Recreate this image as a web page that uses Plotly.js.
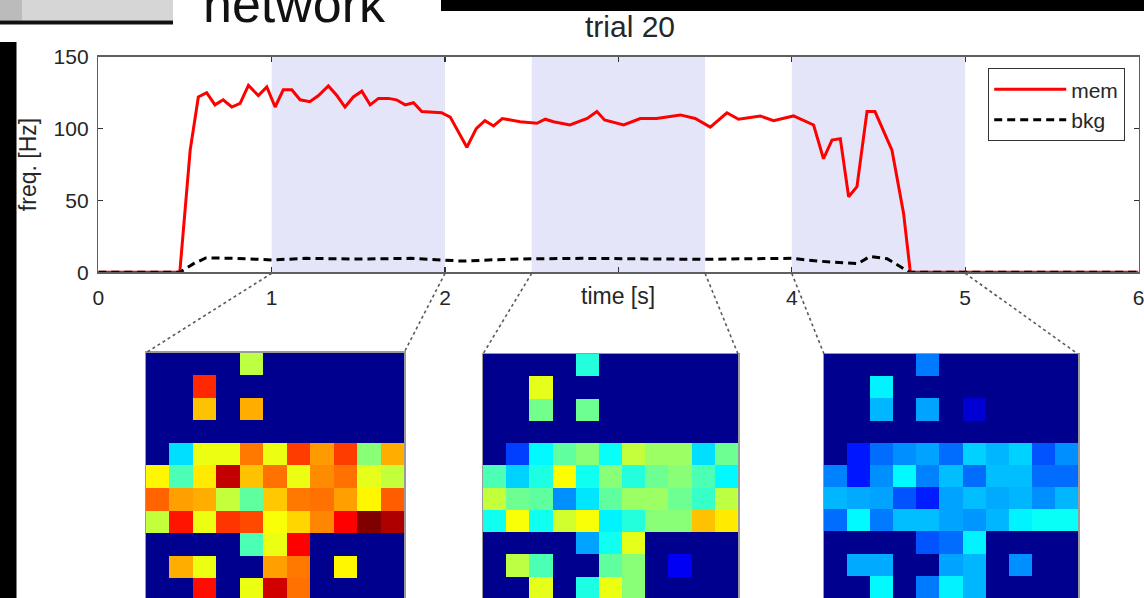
<!DOCTYPE html>
<html>
<head>
<meta charset="utf-8">
<script src="https://cdn.plot.ly/plotly-3.0.1.min.js"></script>
<style>
  html, body { margin: 0; padding: 0; background: #ffffff; }
  #chart { width: 1144px; height: 598px; }
</style>
</head>
<body>
<div id="chart"></div>
<script>
// ---- firing-rate traces for trial 20 ----
const memTime = [0, 0.47, 0.53, 0.577, 0.625, 0.673, 0.72, 0.77, 0.818, 0.866, 0.923, 0.972,
  1.02, 1.067, 1.116, 1.164, 1.22, 1.27, 1.327, 1.376, 1.423, 1.471, 1.52, 1.568, 1.616,
  1.673, 1.72, 1.77, 1.818, 1.866, 1.98, 2.03, 2.126, 2.18, 2.23, 2.28, 2.33, 2.433, 2.53,
  2.578, 2.626, 2.72, 2.82, 2.876, 2.92, 3.03, 3.126, 3.22, 3.357, 3.443, 3.53, 3.626,
  3.693, 3.818, 3.895, 4.01, 4.126, 4.183, 4.232, 4.28, 4.328, 4.376, 4.434, 4.48, 4.578,
  4.645, 4.684, 6.0];
const memRate = [0, 0, 85, 122, 125, 116.5, 120, 115, 117.6, 130, 123, 129,
  115, 127, 127, 120, 118.7, 123, 129.6, 123, 115, 122, 126, 116.5, 121,
  121, 120, 116.5, 118, 111.8, 111, 108, 87, 100, 105.5, 101.8, 107, 104.8, 103.7,
  106.5, 104.8, 102.5, 107, 111.8, 106, 102.5, 107, 107, 109.5, 107, 101, 111,
  106.5, 108.8, 105.5, 108.8, 102.5, 79, 92, 93, 52.6, 59.6, 111.8, 111.8, 85,
  41, 0, 0];

const bkgTime = [0, 0.47, 0.55, 0.62, 0.8, 1.0, 1.2, 1.5, 1.8, 2.0, 2.1, 2.3, 2.5, 2.8,
  3.0, 3.3, 3.5, 3.7, 4.0, 4.15, 4.3, 4.38, 4.45, 4.55, 4.68, 6.0];
const bkgRate = [0, 0, 6, 10, 9.7, 8.6, 9.7, 9.2, 9.7, 8.3, 7.8, 8.8, 9.4, 9.7,
  9.5, 9.7, 9.0, 9.4, 9.7, 7.8, 6.8, 6.0, 11.0, 9.5, 0, 0];

// time windows averaged into the three network snapshots
const windowStart = [1, 2.5, 4];
const windowEnd = [2, 3.5, 5];

const xTickVals = [0, 1, 2, 3, 4, 5, 6];
const xTickText = ['0', '1', '2', '', '4', '5', '6'];
const yTickVals = [0, 50, 100, 150];

// ---- per-neuron rates (Hz) on the 11 x 11 grid, rows top to bottom ----
const snapA = [
  [0, 0, 0, 0, 83, 0, 0, 0, 0, 0, 0],
  [0, 0, 125, 0, 0, 0, 0, 0, 0, 0, 0],
  [0, 0, 102, 0, 105, 0, 0, 0, 0, 0, 0],
  [0, 0, 0, 0, 0, 0, 0, 0, 0, 0, 0],
  [0, 50, 90, 90, 113, 90, 122, 108, 122, 75, 105],
  [94, 66, 96, 140, 102, 114, 90, 110, 114, 89, 84],
  [116, 107, 105, 84, 69, 101, 113, 114, 107, 94, 117],
  [84, 128, 90, 123, 120, 92, 99, 111, 131, 150, 143],
  [0, 0, 0, 0, 66, 90, 131, 0, 0, 0, 0],
  [0, 105, 90, 0, 0, 107, 113, 0, 94, 0, 0],
  [0, 0, 129, 0, 90, 138, 114, 0, 0, 0, 0]
];
const snapB = [
  [0, 0, 0, 0, 60, 0, 0, 0, 0, 0, 0],
  [0, 0, 89, 0, 0, 0, 0, 0, 0, 0, 0],
  [0, 0, 72, 0, 71, 0, 0, 0, 0, 0, 0],
  [0, 0, 0, 0, 0, 0, 0, 0, 0, 0, 0],
  [0, 26, 54, 69, 75, 56, 84, 78, 78, 50, 71],
  [66, 48, 59, 93, 57, 75, 60, 71, 75, 66, 54],
  [84, 71, 69, 38, 51, 69, 78, 78, 71, 63, 83],
  [57, 92, 57, 86, 92, 53, 60, 75, 75, 102, 96],
  [0, 0, 0, 0, 41, 57, 89, 0, 0, 0, 0],
  [0, 83, 66, 0, 0, 69, 75, 0, 15, 0, 0],
  [0, 0, 89, 0, 59, 90, 75, 0, 0, 0, 0]
];
const snapC = [
  [0, 0, 0, 0, 35, 0, 0, 0, 0, 0, 0],
  [0, 0, 53, 0, 0, 0, 0, 0, 0, 0, 0],
  [0, 0, 44, 0, 41, 0, 10, 0, 0, 0, 0],
  [0, 0, 0, 0, 0, 0, 0, 0, 0, 0, 0],
  [0, 20, 33, 38, 41, 33, 48, 44, 48, 29, 38],
  [36, 20, 38, 54, 36, 45, 33, 45, 45, 33, 33],
  [44, 42, 41, 29, 21, 41, 45, 42, 44, 38, 44],
  [33, 54, 35, 45, 45, 41, 39, 44, 53, 56, 56],
  [0, 0, 0, 0, 29, 33, 53, 0, 0, 0, 0],
  [0, 42, 42, 0, 0, 41, 44, 0, 38, 0, 0],
  [0, 0, 54, 0, 35, 53, 44, 0, 0, 0, 0]
];

// ---- page geometry (pixels) ----
const W = 1144, H = 598;
const fx = v => v / W;
const fy = v => 1 - v / H;
const FONT = 'Liberation Sans, Arial, sans-serif';
const INK = '#262626';

const plotL = 98.3, plotR = 1138.5, plotT = 56.7, plotB = 272.3;
const tToPaper = t => fx(plotL + (t / 6) * (plotR - plotL));

// snapshot panels: [left, right, top] in px
const panels = [[146, 404, 352.7], [483, 738, 354], [824, 1078, 354]];

// MATLAB-style jet colour map
const jet = [
  [0, 'rgb(0,0,143)'], [0.111, 'rgb(0,0,255)'], [0.365, 'rgb(0,255,255)'],
  [0.619, 'rgb(255,255,0)'], [0.873, 'rgb(255,0,0)'], [1, 'rgb(128,0,0)']
];

const gridIdx = [0, 1, 2, 3, 4, 5, 6, 7, 8, 9, 10];
const snaps = [snapA, snapB, snapC];

const traces = [
  {
    x: memTime, y: memRate, type: 'scatter', mode: 'lines', name: 'mem',
    line: { color: '#ff0000', width: 3 }, xaxis: 'x', yaxis: 'y'
  },
  {
    x: bkgTime, y: bkgRate, type: 'scatter', mode: 'lines', name: 'bkg',
    line: { color: '#000000', width: 3, dash: '8px,5px' }, xaxis: 'x', yaxis: 'y'
  }
];
snaps.forEach((z, i) => {
  traces.push({
    type: 'heatmap', z: z, x: gridIdx, y: gridIdx,
    colorscale: jet, zmin: 0, zmax: 150, showscale: false, zsmooth: false,
    xaxis: 'x' + (i + 2), yaxis: 'y' + (i + 2), hoverinfo: 'skip'
  });
});

const shapes = [];
// shaded averaging windows
windowStart.forEach((s, i) => {
  shapes.push({
    type: 'rect', xref: 'x', yref: 'y', x0: s, x1: windowEnd[i], y0: 0, y1: 150,
    fillcolor: '#e5e5fa', line: { width: 0 }, layer: 'below'
  });
});
// dotted connectors from each window to its snapshot
windowStart.forEach((s, i) => {
  const p = panels[i];
  [[s, p[0]], [windowEnd[i], p[1]]].forEach(([t, xp]) => {
    shapes.push({
      type: 'line', xref: 'paper', yref: 'paper',
      x0: tToPaper(t), y0: fy(plotB + 1), x1: fx(xp), y1: fy(p[2]),
      line: { color: '#5a5a5a', width: 1.6, dash: 'dot' }
    });
  });
});
// page furniture around the figure
shapes.push(
  { type: 'rect', xref: 'paper', yref: 'paper', x0: 0, x1: fx(173), y0: fy(20.5), y1: 1,
    fillcolor: '#d6d6d6', line: { width: 0 } },
  { type: 'rect', xref: 'paper', yref: 'paper', x0: 0, x1: fx(22), y0: fy(20.5), y1: 1,
    fillcolor: '#a8a8a8', line: { width: 0 }, opacity: 0.6 },
  { type: 'rect', xref: 'paper', yref: 'paper', x0: 0, x1: fx(173), y0: fy(24.5), y1: fy(20.5),
    fillcolor: '#111111', line: { width: 0 } },
  { type: 'rect', xref: 'paper', yref: 'paper', x0: fx(441), x1: 1, y0: fy(11), y1: 1,
    fillcolor: '#000000', line: { width: 0 } },
  { type: 'rect', xref: 'paper', yref: 'paper', x0: 0, x1: fx(16.5), y0: 0, y1: fy(42),
    fillcolor: '#000000', line: { width: 0 } }
);

const annotations = [
  { text: 'network', xref: 'paper', yref: 'paper', x: fx(294), y: fy(35),
    xanchor: 'center', yanchor: 'bottom', showarrow: false,
    font: { family: FONT, size: 52, color: '#111111' } },
  { text: 'trial 20', xref: 'paper', yref: 'paper', x: fx(630), y: fy(45),
    xanchor: 'center', yanchor: 'bottom', showarrow: false,
    font: { family: FONT, size: 30, color: INK } },
  { text: 'time [s]', xref: 'x', yref: 'paper', x: 3, y: fy(296),
    xanchor: 'center', yanchor: 'middle', showarrow: false,
    font: { family: FONT, size: 23, color: INK } }
];

const mainAxis = {
  showline: true, mirror: 'ticks', linecolor: '#5f5f5f', linewidth: 1.5,
  ticks: 'inside', ticklen: 5, tickwidth: 1.2, tickcolor: '#333333',
  showgrid: false, zeroline: false, automargin: false, ticklabeloverflow: 'allow',
  tickfont: { family: FONT, size: 21, color: INK }
};
const panelAxis = {
  showline: true, mirror: true, linecolor: '#9a9a9a', linewidth: 1.5,
  ticks: '', showticklabels: false, showgrid: false, zeroline: false, automargin: false
};

const layout = {
  width: W, height: H, autosize: false,
  margin: { l: 0, r: 0, t: 0, b: 0, pad: 0 },
  paper_bgcolor: '#ffffff', plot_bgcolor: '#ffffff',
  showlegend: true,
  legend: {
    x: fx(1125), xanchor: 'right', y: fy(68), yanchor: 'top',
    bgcolor: '#ffffff', bordercolor: '#333333', borderwidth: 1.2,
    font: { family: FONT, size: 21, color: INK }, itemwidth: 72, tracegroupgap: 0
  },
  xaxis: Object.assign({}, mainAxis, {
    domain: [fx(plotL), fx(plotR)], range: [0, 6],
    tickvals: xTickVals, ticktext: xTickText, ticklabelstandoff: 6
  }),
  yaxis: Object.assign({}, mainAxis, {
    domain: [fy(plotB), fy(plotT)], range: [0, 150],
    tickvals: yTickVals, ticklabelstandoff: 4,
    title: { text: 'freq. [Hz]', standoff: 10, font: { family: FONT, size: 23, color: INK } }
  }),
  shapes: shapes,
  annotations: annotations
};

panels.forEach((p, i) => {
  const n = i + 2;
  const rowsShown = (H - p[2]) / ((p[1] - p[0]) / 11 * 0.962);
  layout['xaxis' + n] = Object.assign({}, panelAxis, {
    domain: [fx(p[0]), fx(p[1])], range: [-0.5, 10.5], anchor: 'y' + n
  });
  layout['yaxis' + n] = Object.assign({}, panelAxis, {
    domain: [0, fy(p[2])], range: [rowsShown - 0.5, -0.5], anchor: 'x' + n
  });
});

Plotly.newPlot('chart', traces, layout, { staticPlot: true, displayModeBar: false });
</script>
</body>
</html>
